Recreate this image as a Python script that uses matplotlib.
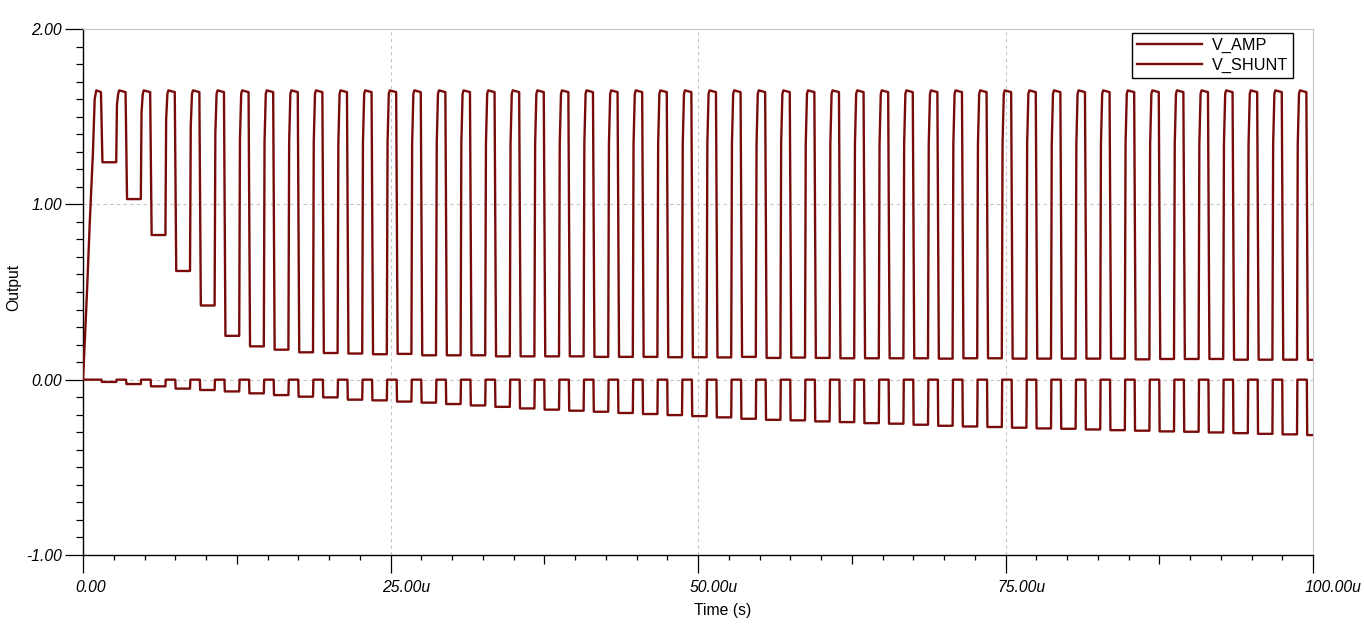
import numpy as np
import matplotlib
matplotlib.use('Agg')
import matplotlib.pyplot as plt
from matplotlib.ticker import FixedLocator
from matplotlib.transforms import ScaledTranslation

plt.rcParams['font.family'] = ['Liberation Sans', 'DejaVu Sans']

# timing of the switching (microseconds)
period_us = 2.0
first_fall_us = 1.5
low_len_us = 1.2
high_level = 1.65

# start-up ramp of V_AMP
ramp_t = [0.0, 0.14, 0.33, 0.54, 0.81, 0.95, 1.08]
ramp_v = [0.0, 0.21, 0.51, 0.88, 1.30, 1.60, 1.65]

# low level of V_AMP in each cycle
amp_low = [1.24, 1.03, 0.825, 0.62, 0.423, 0.25, 0.19, 0.171, 0.156, 0.152,
           0.149, 0.145, 0.147, 0.139, 0.139, 0.139, 0.133, 0.133, 0.133, 0.133,
           0.130, 0.130, 0.130, 0.128, 0.128, 0.127, 0.130, 0.124, 0.126, 0.124,
           0.122, 0.122, 0.122, 0.122, 0.120, 0.122, 0.122, 0.120, 0.120, 0.120,
           0.120, 0.120, 0.116, 0.118, 0.118, 0.118, 0.114, 0.114, 0.114, 0.113]

# low level of V_SHUNT in each cycle
shunt_low = [-0.013, -0.025, -0.038, -0.051, -0.059, -0.067, -0.078, -0.088, -0.097, -0.101,
             -0.114, -0.118, -0.125, -0.131, -0.139, -0.147, -0.155, -0.164, -0.171, -0.177,
             -0.183, -0.190, -0.196, -0.202, -0.208, -0.215, -0.223, -0.229, -0.232, -0.238,
             -0.242, -0.248, -0.251, -0.257, -0.263, -0.267, -0.270, -0.274, -0.278, -0.280,
             -0.284, -0.288, -0.291, -0.295, -0.297, -0.301, -0.305, -0.309, -0.312, -0.316]

x_ticks = [0, 25, 50, 75, 100]
x_labels = ['0.00', '25.00u', '50.00u', '75.00u', '100.00u']
y_ticks = [-1, 0, 1, 2]
y_labels = ['-1.00', '0.00', '1.00', '2.00']

t_end = 100.0

# build the waveforms
amp_t = list(ramp_t)
amp_v = list(ramp_v)
sh_t = [0.0]
sh_v = [0.0]
for k, (lo, slo) in enumerate(zip(amp_low, shunt_low)):
    tf = first_fall_us + k * period_us
    tr = tf + low_len_us
    amp_t += [tf - 0.04, tf + 0.08]
    amp_v += [high_level - 0.01, lo]
    sh_t += [tf, tf + 0.03]
    sh_v += [0.0, slo]
    if tr < t_end:
        amp_t += [tr, tr + 0.06, tr + 0.16, tr + 0.24]
        amp_v += [lo, lo + 0.8 * (high_level - lo), high_level - 0.02, high_level]
        sh_t += [tr, tr + 0.03]
        sh_v += [slo, 0.0]
    else:
        amp_t.append(t_end)
        amp_v.append(lo)
        sh_t.append(t_end)
        sh_v.append(slo)

color = '#7a0b0b'
fs = 11.3

fig = plt.figure(figsize=(13.64, 6.29), dpi=100)
ax = fig.add_axes([83 / 1364, 1 - 555 / 629, 1230 / 1364, 526 / 629])

ax.plot(amp_t, amp_v, color=color, lw=1.7, label='V_AMP', zorder=3)
ax.plot(sh_t, sh_v, color=color, lw=1.7, label='V_SHUNT', zorder=3)

# grid
for yv in [0, 1]:
    ax.axhline(yv, color='#c4c4c4', lw=0.8, ls=(0, (3, 3)), zorder=1)
for xv in [25, 50, 75]:
    ax.axvline(xv, color='#c4c4c4', lw=0.8, ls=(0, (3, 3)), zorder=1)

ax.set_xlim(0, 100)
ax.set_ylim(-1, 2)

ax.spines['top'].set_color('#c4c4c4')
ax.spines['right'].set_color('#c4c4c4')
for s in ['left', 'bottom']:
    ax.spines[s].set_color('black')
    ax.spines[s].set_linewidth(1.0)

ax.xaxis.set_major_locator(FixedLocator(x_ticks))
ax.set_xticklabels(x_labels, fontstyle='italic', fontsize=fs, ha='left')
ax.xaxis.set_minor_locator(FixedLocator([v for v in np.arange(0, 100.1, 2.5) if v % 25 != 0]))
ax.yaxis.set_major_locator(FixedLocator(y_ticks))
ax.set_yticklabels(y_labels, fontstyle='italic', fontsize=fs)
ax.yaxis.set_minor_locator(FixedLocator([v for v in np.arange(-1, 2.01, 0.1) if abs(v - round(v)) > 1e-6]))

ax.tick_params(axis='x', which='major', direction='out', length=13, width=0.9, pad=5)
ax.tick_params(axis='x', which='minor', direction='out', length=3.6, width=0.9)
ax.tick_params(axis='y', which='major', direction='out', length=13, width=0.9, pad=2)
ax.tick_params(axis='y', which='minor', direction='out', length=5, width=0.9)

# medium ticks at the half-way marks
minor_locs = ax.xaxis.get_minorticklocs()
for tick, loc in zip(ax.xaxis.get_minor_ticks(len(minor_locs)), minor_locs):
    if abs(loc % 12.5) < 1e-6:
        tick.tick1line.set_markersize(6.3)

# shift x tick labels slightly left of the tick
shift = ScaledTranslation(-8 / 100, 0, fig.dpi_scale_trans)
for tick in ax.xaxis.get_major_ticks():
    tick.label1.set_transform(tick.label1.get_transform() + shift)

fig.text(14 / 1364, 1 - 287 / 629, 'Output', rotation=90, ha='center', va='center', fontsize=fs)
fig.text(723 / 1364, 1 - 611 / 629, 'Time (s)', ha='center', va='center', fontsize=fs)

leg = ax.legend(loc='upper right', bbox_to_anchor=(1293 / 1364, 1 - 33 / 629),
                bbox_transform=fig.transFigure, borderaxespad=0, fancybox=False,
                edgecolor='black', framealpha=1, fontsize=fs + 0.4, handlelength=4.0,
                handletextpad=0.6, borderpad=0.3, labelspacing=0.3)
leg.get_frame().set_linewidth(1.0)

fig.savefig('out.png', dpi=100)
